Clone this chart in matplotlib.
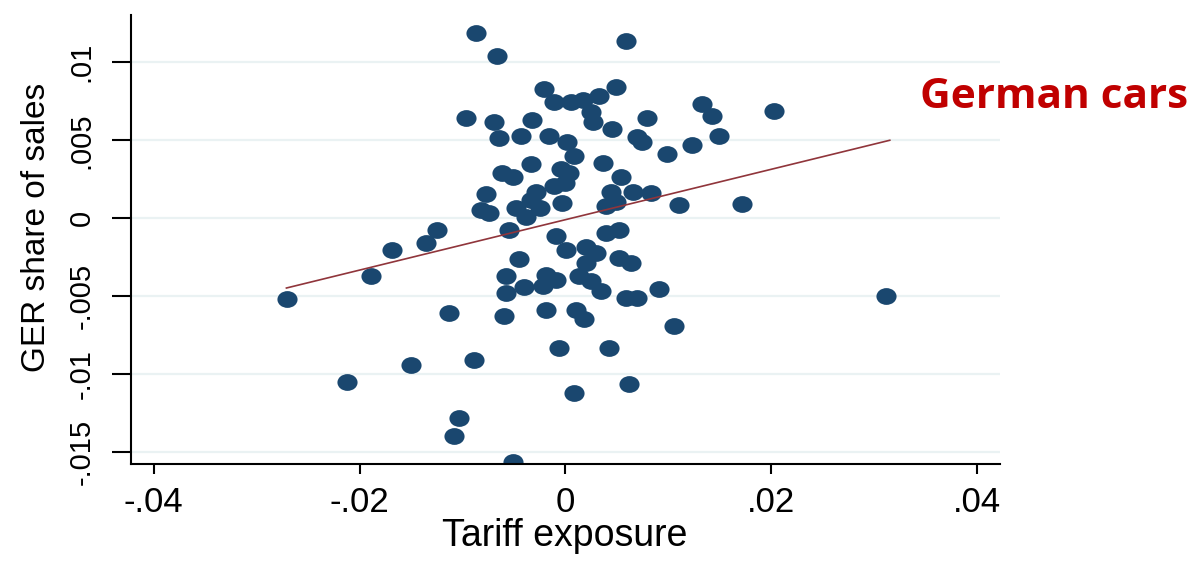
import matplotlib
matplotlib.use("Agg")
import matplotlib.pyplot as plt
import numpy as np
from matplotlib.path import Path
from matplotlib.transforms import Affine2D

# Tariff exposure vs GER share of sales
tariff_exposure = [
    -0.00867, -0.00667, 0.00592, -0.00204, 0.00492, -0.00114, 0.00055, 0.00168,
    0.00323, 0.00250, 0.00265, 0.00450, -0.00964, -0.00696, -0.00327, -0.00641,
    -0.00430, -0.00162, 0.00013, 0.00087, 0.00362, 0.00699, 0.00748, 0.01323,
    0.01420, 0.02029, 0.00789, 0.00983, 0.01226, 0.01495, -0.00333, -0.00615,
    -0.00512, -0.00042, 0.00039, 0.00541, -0.00770, -0.00333, -0.00284, -0.00107,
    0.00000, -0.00029, 0.00444, 0.00653, 0.00832, 0.00395, 0.00492, -0.00818,
    -0.00738, -0.00479, -0.00382, -0.00252, -0.00550, -0.01243, -0.00090, 0.00395,
    0.00524, 0.00007, 0.00201, 0.00298, 0.00201, -0.00447, 0.00524, 0.00638,
    -0.00576, -0.00187, -0.00090, 0.00136, 0.00250, -0.00576, -0.00398, -0.00220,
    0.00347, 0.00589, 0.00694, 0.00913, 0.01107, 0.01716, -0.01133, -0.00599,
    -0.00187, 0.00104, 0.00184, -0.00065, 0.00420, -0.00890, 0.00081, 0.00615,
    -0.01036, -0.01078, -0.00505, 0.01058, 0.03117, -0.02709, -0.01893, -0.01686,
    -0.01352, -0.01497, -0.02126,
]
ger_share = [
    0.01185, 0.01037, 0.01139, 0.00830, 0.00841, 0.00745, 0.00745, 0.00760,
    0.00781, 0.00681, 0.00617, 0.00575, 0.00643, 0.00620, 0.00632, 0.00517,
    0.00526, 0.00530, 0.00492, 0.00400, 0.00355, 0.00519, 0.00487, 0.00735,
    0.00653, 0.00687, 0.00643, 0.00411, 0.00468, 0.00528, 0.00351, 0.00291,
    0.00262, 0.00319, 0.00287, 0.00262, 0.00155, 0.00117, 0.00170, 0.00206,
    0.00225, 0.00100, 0.00170, 0.00170, 0.00164, 0.00079, 0.00106, 0.00053,
    0.00032, 0.00064, 0.00010, 0.00064, -0.00075, -0.00075, -0.00111, -0.00096,
    -0.00075, -0.00202, -0.00181, -0.00224, -0.00287, -0.00262, -0.00255, -0.00284,
    -0.00373, -0.00362, -0.00394, -0.00373, -0.00405, -0.00479, -0.00443, -0.00437,
    -0.00469, -0.00509, -0.00512, -0.00455, 0.00085, 0.00089, -0.00607, -0.00629,
    -0.00586, -0.00586, -0.00645, -0.00830, -0.00830, -0.00910, -0.01118, -0.01060,
    -0.01277, -0.01395, -0.01565, -0.00692, -0.00501, -0.00515, -0.00367, -0.00202,
    -0.00156, -0.00943, -0.01050,
]

# fitted line end points
fit_x = [-0.0271, 0.0315]
fit_y = [-0.00447, 0.00500]

x_ticks = [-0.04, -0.02, 0, 0.02, 0.04]
x_tick_labels = ["-.04", "-.02", "0", ".02", ".04"]
y_ticks = [-0.015, -0.01, -0.005, 0, 0.005, 0.01]
y_tick_labels = ["-.015", "-.01", "-.005", "0", ".005", ".01"]

navy = "#1a476f"
maroon = "#90353b"
grid_col = "#eaf2f3"

plt.rcParams["font.family"] = ["Liberation Sans", "DejaVu Sans"]

# slightly wide circle, like the stretched stata markers
circle = Path.unit_circle()
marker = Path(Affine2D().scale(1.2, 1.0).transform(circle.vertices), circle.codes)

fig = plt.figure(figsize=(11.98, 5.61), dpi=100)
ax = fig.add_axes([0.1093, 0.1729, 0.7254, 0.8004])

for yt in y_ticks:
    ax.axhline(yt, color=grid_col, lw=1.6, zorder=0)

ax.scatter(tariff_exposure, ger_share, s=14.5 ** 2, marker=marker,
           color=navy, linewidths=0, zorder=2)
ax.plot(fit_x, fit_y, color=maroon, lw=1.2, zorder=3)

ax.set_xlim(-0.0422, 0.0422)
ax.set_ylim(-0.01575, 0.01303)

ax.spines["top"].set_visible(False)
ax.spines["right"].set_visible(False)
ax.spines["left"].set_linewidth(1.5)
ax.spines["bottom"].set_linewidth(1.5)

ax.set_xticks(x_ticks)
ax.set_xticklabels(x_tick_labels, fontsize=25)
ax.set_yticks(y_ticks)
ax.set_yticklabels(y_tick_labels, fontsize=21, rotation=90, va="center")
ax.tick_params(axis="x", length=7.5, width=1.5, pad=8)
ax.tick_params(axis="y", length=13.5, width=1.5, pad=12)

ax.set_xlabel("Tariff exposure", fontsize=27)
ax.xaxis.set_label_coords(0.4994, -0.121)
ax.set_ylabel("GER share of sales", fontsize=24)
ax.yaxis.set_label_coords(-0.091, 0.528)

fig.text(920 / 1198, 1 - 108 / 561, "German cars", color="#c00000",
         fontsize=30.5, fontweight="bold", family=["Open Sans", "DejaVu Sans"],
         ha="left", va="baseline")

fig.savefig("out.png", dpi=100)
